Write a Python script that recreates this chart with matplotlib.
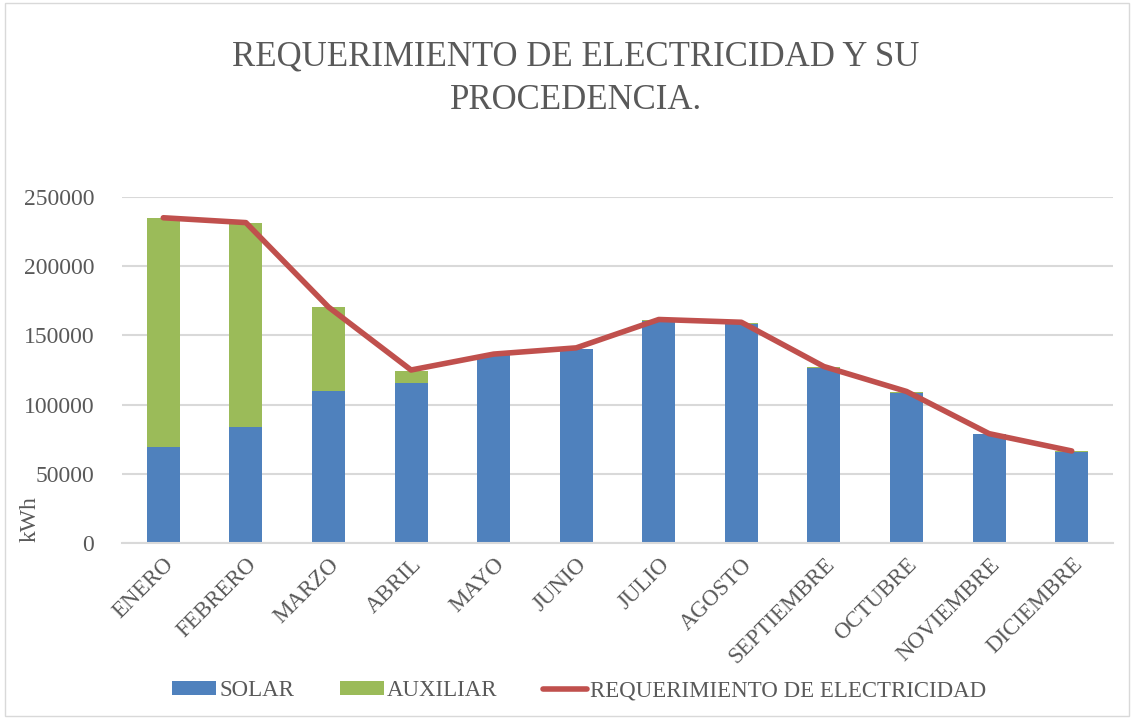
import matplotlib.pyplot as plt
import numpy as np
from matplotlib.patches import Rectangle

meses = ["ENERO", "FEBRERO", "MARZO", "ABRIL", "MAYO", "JUNIO", "JULIO",
         "AGOSTO", "SEPTIEMBRE", "OCTUBRE", "NOVIEMBRE", "DICIEMBRE"]
solar = [69500, 84000, 110000, 115500, 135500, 140500, 160500,
         158500, 126500, 108500, 78500, 65500]
auxiliar = [165500, 147000, 60500, 9000, 0, 0, 800,
            500, 700, 600, 300, 1000]
requerimiento = [235000, 231500, 170500, 125000, 136500, 141000, 161500,
                 159500, 127500, 109500, 79000, 66500]

azul = "#4F81BD"
verde = "#9BBB59"
rojo = "#C0504D"
gris = "#595959"

plt.rcParams['font.family'] = ['Liberation Serif', 'DejaVu Serif']

fig = plt.figure(figsize=(11.34, 7.19), dpi=100)
ax = fig.add_axes([122/1134, 1-543/719, (1113-122)/1134, (543-197)/719])

# marco del grafico
fig.patches.append(Rectangle((0.004, 0.004), 0.992, 0.992, transform=fig.transFigure,
                             fill=False, edgecolor="#D9D9D9", linewidth=1))

x = np.arange(len(meses))
b1 = ax.bar(x, solar, width=0.4, color=azul, label="SOLAR", zorder=2)
b2 = ax.bar(x, auxiliar, width=0.4, bottom=solar, color=verde, label="AUXILIAR", zorder=2)
l1, = ax.plot(x, requerimiento, color=rojo, linewidth=4, solid_capstyle="round",
              label="REQUERIMIENTO DE ELECTRICIDAD", zorder=3)

ax.set_xlim(-0.5, len(meses) - 0.5)
ax.set_ylim(0, 250000)
ax.set_yticks(np.arange(0, 250001, 50000))
ax.yaxis.grid(True, color="#D9D9D9", linewidth=1.5, zorder=0)
ax.set_axisbelow(True)
for s in ["top", "right", "left"]:
    ax.spines[s].set_visible(False)
ax.spines["bottom"].set_color("#D9D9D9")
ax.spines["bottom"].set_linewidth(1.5)
ax.tick_params(axis="both", length=0, colors=gris, labelsize=17)
ax.tick_params(axis="y", pad=20)
ax.set_xticks(x)
ax.set_xticklabels(meses, rotation=45, ha="right", rotation_mode="anchor")
ax.tick_params(axis="x", pad=8, labelsize=16.5)
ax.set_ylabel("kWh", color=gris, fontsize=17)
ax.yaxis.set_label_coords(-0.082, 0.07)

fig.text(0.508, 0.943, "REQUERIMIENTO DE ELECTRICIDAD Y SU\nPROCEDENCIA.",
         ha="center", va="top", fontsize=25, color=gris, linespacing=1.4)

fig.legend(handles=[b1, b2, l1], loc="lower center", bbox_to_anchor=(0.511, -0.004),
           ncol=3, frameon=False, fontsize=16.5, labelcolor=gris,
           handlelength=1.9, handleheight=0.6, columnspacing=2.0, handletextpad=0.15)

fig.savefig("out.png", dpi=100)
